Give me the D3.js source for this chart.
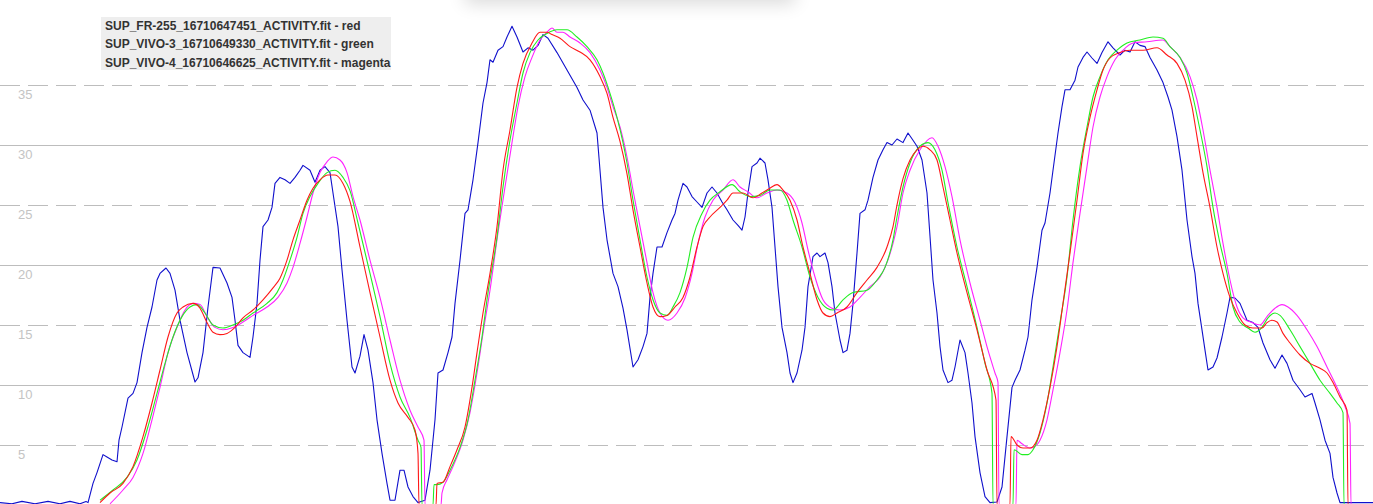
<!DOCTYPE html>
<html><head><meta charset="utf-8">
<script src="https://cdn.jsdelivr.net/npm/d3@7"></script>
<style>
html,body{margin:0;padding:0;background:#fff;overflow:hidden;}
svg{display:block;}
</style></head>
<body>
<svg id="chart" width="1373" height="504"></svg>
<script>
// ---- data (x = sample index, y = value) ----
const yTicks = [5, 10, 15, 20, 25, 30, 35];
const solidTicks = [10, 20, 30];

const legendLabels = [
  "SUP_FR-255_16710647451_ACTIVITY.fit - red",
  "SUP_VIVO-3_16710649330_ACTIVITY.fit - green",
  "SUP_VIVO-4_16710646625_ACTIVITY.fit - magenta"
];

const blueT = [0,12,22,35,48,60,70,80,86,88,93,97,103,107,112,117,119,122,128,133,137,142,147,152,157,160,166,170,175,180,187,195,198,203,208,213,220,227,232,235,238,243,250,253,257,260,263,268,272,275,280,285,290,295,300,303,310,315,320,325,330,333,338,342,347,352,355,360,364,368,373,377,382,387,390,395,400,404,408,413,418,425,430,435,438,443,448,452,455,460,465,468,473,478,483,487,490,493,498,503,507,512,517,523,528,533,538,543,548,557,567,577,583,590,597,600,603,607,613,618,623,627,633,638,643,647,650,653,657,662,667,672,675,678,683,687,692,697,702,707,712,717,722,727,733,738,742,745,748,752,757,760,765,768,772,775,778,782,787,790,793,797,802,805,808,813,817,820,825,828,832,835,840,843,847,850,853,857,860,865,868,873,878,883,887,892,897,903,908,913,917,922,927,930,933,937,940,943,948,952,955,960,965,968,972,975,980,985,990,997,1002,1007,1012,1015,1020,1025,1028,1032,1037,1042,1045,1050,1053,1058,1062,1065,1070,1075,1078,1083,1087,1092,1097,1102,1108,1113,1120,1125,1130,1135,1140,1145,1150,1157,1163,1168,1172,1177,1182,1187,1192,1195,1198,1202,1205,1208,1213,1217,1222,1227,1230,1235,1240,1247,1253,1258,1263,1270,1275,1282,1287,1293,1300,1305,1312,1315,1320,1325,1330,1333,1337,1340,1350,1360,1373];
const blueV = [0.2,0.1,0.3,0.1,0.3,0.1,0.3,0.1,0.3,0.2,1.8,2.7,4.2,4.0,3.75,3.6,5.4,6.5,8.9,9.3,10.2,12.7,14.8,16.5,18.75,19.3,19.75,19.3,17.9,15.4,12.7,10.25,10.6,12.7,16.5,19.8,19.75,18.5,17.3,15.4,13.3,12.7,12.3,14,16.8,20.4,23.2,23.75,24.8,26.8,27.3,27.1,26.8,27.3,27.9,28.3,27.9,26.9,27.9,28.2,27.7,26,23.2,19.6,15.4,11.5,11,12.4,14.2,12.9,10.2,7.1,4.3,1.8,0.4,0.4,2.9,2.9,1.5,0.7,0.2,0.4,2.9,7.1,11,11.25,12.7,14,16.8,20.4,24.3,24.6,27.1,30.2,33.5,35.2,37.1,36.9,37.9,38.2,39,39.9,39,37.75,38.1,37.9,38.3,39.2,38.9,37.7,36.25,34.8,33.75,32.9,31,27.9,24.8,22.1,19.3,18.2,16.4,14.6,11.5,12.1,13.2,14.3,17.3,19.3,21.5,21.5,22.7,23.75,24.3,25.4,26.8,26.5,25.7,25.25,24.8,26,26.5,26,25.25,24.6,23.75,23.3,22.9,24,26,28.2,28.5,28.9,28.5,27.1,24.8,21.5,18.2,14.8,12.7,11,10.2,11,12.9,14.8,18.2,20.7,21,20.7,21,20.2,18.2,16,13.75,12.7,12.9,14.3,16.8,21,24.3,24.6,25.4,27.3,28.75,29.6,30.2,30,30.5,30.2,31,30.4,29.9,28.75,26,22.4,18.75,16,13.2,11.25,10.2,10.4,11.5,13.75,12.7,11,8.5,5.7,2.7,0.7,0.2,0.25,1.5,5.7,9.8,10.4,11.25,12.9,14,17.1,19.8,22.9,23.5,26,27.9,31,33.2,34.6,34.6,35.4,36.5,37.3,37.75,37.25,36.8,37.7,38.6,38.1,37.5,37.9,37.75,38.6,38.3,38.2,37.3,36.25,35.2,34,32.9,30.7,27.9,23.75,20.7,19.3,16.8,14.6,12.9,11.25,11.5,12.25,14,16,17.3,17.25,16.8,15.4,15.2,14.8,13.5,12.1,11.4,12.5,11.8,10.4,9.6,9,9.3,8.5,7.1,5.4,4.3,2.3,1,0.2,0.2,0.2,0.2];

const redT = [100,110,123,133,143,152,160,168,177,183,193,200,207,213,220,227,235,243,253,263,273,280,287,293,300,307,313,320,328,335,343,350,360,370,380,390,398,408,415,418,419,436,437,443,450,457,465,472,477,483,490,497,503,510,517,523,532,540,547,552,560,570,580,590,600,607,613,620,627,633,640,647,653,660,667,675,683,690,697,703,710,720,727,733,743,753,762,770,777,783,790,797,803,810,817,823,830,837,847,857,867,877,887,893,897,903,910,917,923,930,937,943,950,957,967,977,987,996,997,1010,1011,1017,1023,1030,1037,1043,1050,1057,1063,1070,1077,1083,1090,1097,1103,1110,1120,1130,1143,1157,1167,1177,1185,1192,1197,1203,1210,1217,1223,1230,1237,1245,1253,1262,1267,1272,1277,1283,1290,1300,1310,1320,1327,1333,1340,1347,1348,1373];
const redV = [0.2,1,1.8,3.2,5.7,8.5,11.25,14,16,16.5,16.8,16.4,15.2,14.4,14.2,14.3,14.8,15.6,16.25,17.1,18.1,18.9,20.4,22.1,23.75,25.4,26.4,27.1,27.5,27.5,26.8,25.3,21.5,17.7,14,10.4,8.5,7.3,6.25,4.3,0,0,1.8,1.9,3.2,4.6,6.5,9.8,12.7,16,19.3,23.2,27.9,31.25,34.8,36.8,38.5,39.4,39.4,39.2,38.9,38.2,37.75,37.1,35.7,34.3,32.3,30.3,27.6,24.6,21.5,18.5,16.5,15.7,15.8,16.5,17.3,19,21.5,23.2,24,24.8,25.4,26,26,25.6,26,26.4,26.7,26.25,25.4,23.75,21.5,19.3,17.1,16,15.7,16,16.5,17.7,18.75,19.8,21.5,23.2,25,27.2,28.75,29.6,29.9,29.6,28.75,26.5,23.75,21,17.7,14.6,11.25,8.75,0,0,5.7,5,4.75,4.75,5.4,7.1,9.8,13.2,16.8,21,25.4,29.3,32.3,34.6,36.25,37.25,37.7,37.9,37.9,38.1,37.5,36.8,35.4,33.2,30.7,27.7,24.8,21.5,19.3,17.3,16,15,14.75,14.75,15.2,15.4,15.25,14.3,13.5,12.5,11.8,11.4,11,10.2,9,7.9,0,0];

const greenT = [100,113,127,137,147,157,165,173,182,190,197,205,213,223,233,243,253,267,277,283,290,297,303,310,318,327,335,343,350,358,370,380,390,400,410,418,421,422,433,434,437,443,450,460,468,475,482,488,497,503,510,517,523,530,538,547,557,567,577,587,597,603,610,617,623,627,633,640,647,653,660,667,673,680,687,693,702,710,720,732,740,750,760,770,780,787,793,802,810,818,827,833,843,853,867,877,885,893,897,903,910,920,928,935,942,948,957,967,977,985,992,993,1013,1014,1022,1028,1033,1040,1047,1053,1060,1067,1073,1080,1087,1093,1100,1108,1117,1127,1140,1153,1163,1170,1180,1187,1193,1200,1207,1213,1220,1227,1233,1240,1248,1255,1262,1268,1275,1280,1290,1300,1310,1320,1330,1337,1343,1344,1373];
const greenV = [0.4,1.25,2.3,3.75,6.25,9.3,11.8,14,15.7,16.5,16.7,16,15,14.75,15,15.4,16,16.8,17.7,18.75,20.4,22.3,24.3,25.7,26.8,27.7,27.9,27.3,26.2,23.5,19.3,15.7,11.8,9,7.3,5.4,4.8,0,0,1.7,1.7,1.9,2.9,4.8,7.1,10.4,14,17.7,22.3,26.5,30.4,33.5,36,37.7,38.75,39.3,39.6,39.6,39,38.2,37.1,36,34.3,32.3,30.2,28.5,25.4,22.1,19,17.1,16,15.8,16.5,17.7,19.8,22.3,24.3,25.4,26.1,26.7,26.1,25.7,25.8,26.25,26.25,25.4,23.75,21.5,19,17.3,16.4,16.25,17.1,17.7,17.9,18.75,19.8,22.1,24,26.5,28.5,29.9,30.2,29.6,27.9,25.2,21.5,18.2,14.8,11.8,9.3,0,0,4.6,4.2,4.2,4.6,6,8.5,11.5,15.2,19,23.75,28.2,31.5,34,35.7,37.1,37.9,38.5,38.75,39,38.9,38.2,37.3,36,34,31.25,28.2,24.8,21.8,19.3,16.5,15.25,14.75,14.4,14.8,15.6,16,15.8,14.6,13.2,11.8,10.4,9.3,8.5,7.7,0,0];

const magentaT = [110,123,133,143,152,160,168,177,185,193,200,207,215,223,233,243,253,267,278,287,293,300,307,313,320,327,333,340,347,353,360,370,380,390,400,410,418,424,425,441,442,447,453,463,470,477,483,490,498,505,512,518,525,532,540,547,552,557,563,570,580,590,600,607,613,620,627,633,640,647,653,660,668,677,685,692,698,705,713,723,733,740,748,757,767,777,787,795,802,808,815,823,832,840,850,860,870,880,887,893,897,903,910,920,932,938,945,952,960,970,980,988,995,998,999,1016,1017,1022,1030,1033,1040,1047,1053,1060,1067,1073,1080,1087,1093,1100,1107,1115,1123,1133,1147,1163,1170,1180,1190,1197,1203,1210,1217,1223,1230,1237,1243,1252,1260,1267,1275,1282,1288,1297,1307,1317,1327,1337,1345,1350,1351,1373];
const magentaV = [0.1,1.25,2.3,4.3,7.1,9.8,12.7,14.8,16.25,16.8,16.7,15.7,14.8,14.6,14.8,15.25,15.8,16.5,17.3,18.5,19.8,21.8,24,26,27.7,28.6,29,28.75,27.7,25.7,23.75,20.4,17.3,13.75,10.4,7.9,6.5,5.4,0,0,1,2.1,3.2,5.4,7.7,11,14.3,17.9,22.7,26.5,30.2,33.2,35.7,37.3,38.75,39.4,39.75,39.4,39.4,39,38.5,37.7,36.25,34.8,33.2,31.5,29,26.25,23.2,20.2,17.7,16,15.4,16,17.25,19.3,21.8,24,25.4,26.25,27.1,26.5,26.1,25.6,26,26.25,26,25.2,23.5,21.25,19,17.1,16.4,16.25,16.5,17.3,18.2,19,20.2,21.8,23.2,26,27.9,29.6,30.6,29.9,28.2,25.7,22.1,18.5,15.4,12.9,11,10.2,0,0,5.4,5.1,4.75,4.8,5.4,7.1,9.6,12.7,16.25,20.2,24.3,28.2,31.5,34,35.7,37.1,37.9,38.5,38.6,38.75,38.2,37.3,35.7,33.75,31.25,27.9,24.8,21.8,18.75,16.5,15.6,15.2,15,15.7,16.4,16.7,16.5,15.8,14.6,13.2,11.5,9.8,8.2,6.8,0,0];

// ---- chart ----
const svg = d3.select("#chart");
const x = d3.scaleLinear().domain([0, 1373]).range([0, 1373]);
const y = d3.scaleLinear().domain([0, 35]).range([505, 85]);

// top shadow
const defs = svg.append("defs");
const f = defs.append("filter").attr("id","sh").attr("x","-20%").attr("y","-100%").attr("width","140%").attr("height","300%");
f.append("feGaussianBlur").attr("stdDeviation", 9);
svg.append("rect").attr("x",465).attr("y",-40).attr("width",330).attr("height",44)
  .attr("fill","#000").attr("opacity",0.14).attr("filter","url(#sh)");
svg.append("rect").attr("x",430).attr("y",-60).attr("width",400).attr("height",60).attr("fill","#fff");

// grid
const grid = svg.append("g");
grid.selectAll("line").data(yTicks).join("line")
  .attr("x1", 0).attr("x2", 1368)
  .attr("y1", d => Math.round(y(d)) + 0.5).attr("y2", d => Math.round(y(d)) + 0.5)
  .attr("stroke", "#bdbdbd").attr("stroke-width", 1)
  .attr("stroke-dasharray", d => solidTicks.includes(d) ? null : "20,8");

// y axis labels
const yAxis = d3.axisLeft(y).tickValues(yTicks).tickSize(0).tickPadding(0);
const ag = svg.append("g").call(yAxis);
ag.select(".domain").remove();
ag.selectAll("text")
  .attr("text-anchor","start").attr("x", 18).attr("dy", null).attr("y", 13)
  .attr("fill","#c4c4c4").style("font-family","'Liberation Sans', Arial, sans-serif").style("font-size","13px");

// lines
function mk(T, V){ return T.map((t,i)=>[t, V[i]]); }
const smooth = d3.line().x(d=>x(d[0])).y(d=>y(d[1])).curve(d3.curveMonotoneX);
const lin = d3.line().x(d=>x(d[0])).y(d=>y(d[1]));

const series = [
  {data: mk(blueT, blueV), color: "#1010cc", w: 1.1, gen: lin},
  {data: mk(magentaT, magentaV), color: "#ff22ff", w: 1.1, gen: smooth},
  {data: mk(greenT, greenV), color: "#22ee22", w: 1.1, gen: smooth},
  {data: mk(redT, redV), color: "#ff1818", w: 1.1, gen: smooth}
];
svg.append("g").selectAll("path").data(series).join("path")
  .attr("d", s => s.gen(s.data))
  .attr("fill","none").attr("stroke", s => s.color).attr("stroke-width", s => s.w)
  .attr("stroke-linejoin","round");

// legend
const lg = svg.append("g");
lg.append("rect").attr("x",101).attr("y",17).attr("width",290).attr("height",53).attr("fill","#eeeeee");
lg.selectAll("text").data(legendLabels).join("text")
  .attr("x",105).attr("y",(d,i)=>29.5 + i*18.5)
  .attr("fill","#333")
  .style("font-family","'Liberation Sans', Arial, sans-serif")
  .style("font-weight","bold").style("font-size","12px")
  .text(d=>d);
</script>
</body></html>
